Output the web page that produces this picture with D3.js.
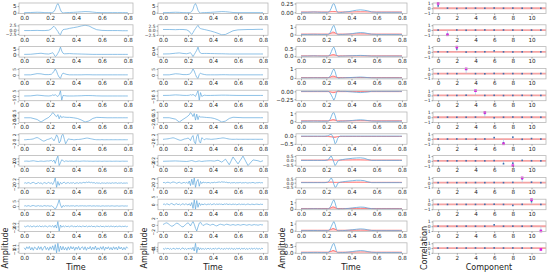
<!DOCTYPE html>
<html><head><meta charset="utf-8">
<script src="https://cdn.jsdelivr.net/npm/d3@7"></script>
<style>body{margin:0;background:#fff} text{font-family:"DejaVu Sans",sans-serif}</style>
</head><body><svg id="c" width="550" height="272"></svg>
<script>
// ---------- data ----------
const time = [0,0.05,0.1,0.13,0.16,0.19,0.21,0.22,0.23,0.24,0.25,0.26,0.27,0.28,0.29,0.3,0.31,0.33,0.35,0.38,0.41,0.44,0.47,0.5,0.53,0.56,0.6,0.64,0.68,0.72,0.76,0.78,0.8];
const denseTime = [0,0.01,0.02,0.03,0.04,0.05,0.06,0.07,0.08,0.09,0.1,0.11,0.12,0.13,0.14,0.15,0.16,0.17,0.18,0.19,
 0.2,0.21,0.22,0.23,0.24,0.25,0.26,0.27,0.28,0.29,0.3,0.31,0.32,0.33,0.34,
 0.35,0.36,0.37,0.38,0.39,0.4,0.41,0.42,0.43,0.44,0.45,0.46,0.47,0.48,0.49,0.5,0.51,0.52,0.53,0.54,0.55,0.56,0.57,0.58,0.59,
 0.6,0.61,0.62,0.63,0.64,0.65,0.66,0.67,0.68,0.69,0.7,0.71,0.72,0.73,0.74,0.75,0.76,0.77,0.78,0.79,0.8];
const timeTicks = [0,0.2,0.4,0.6,0.8];
const components = [0,1,2,3,4,5,6,7,8,9,10,11];
const componentTicks = [0,2,4,6,8,10];
const corrTicks = [-1,0,1];

const sourceSignals = [
 [0,0.1,0.3,0.2,0,0,0,0.2,0.8,2.5,5.5,7,5,2,0.3,-0.3,-0.1,0,0.1,0.2,0.4,0.6,0.8,0.7,0.4,0.1,0,0,0,0,0,0,0],
 [-0.5,-0.5,-0.4,-0.5,-0.5,-0.3,0.5,1.5,2,1.2,0,-1,-2.5,-3,-1,0,0.2,0.4,0.8,1.2,1.6,2.2,2.6,2.2,1,0,-0.4,-0.5,-0.5,-0.5,-0.6,-0.6,-0.6],
 [0,0.1,0.7,1,0.5,0.3,1,1.5,0,-2,-1,1,3,6.5,3,1,0.5,0.6,0.7,0.5,0.4,0.3,0.2,0.1,0,0,0,0,0,0,0,0,0],
 [0,0,1,0.8,0.2,0.2,0.5,1.5,3,5,3,0,-2,-3,0,1.5,1,0.3,0,0,0,0,0.1,0.1,0,0,0,0,0,0,0,0,0],
 [0,0.1,0.8,0.5,0.1,0,0.3,1,0.5,1.2,0.3,-0.5,1,5,-4,0.5,0.3,0,0,0,0.1,0.2,0.4,0.4,0.3,0.1,0,0,0,0,0,0,0],
 [0,0,-0.8,-2,-0.8,0.2,1.5,2.5,2,1,0.5,1.5,-0.5,1,0,0.5,0.3,0.2,0.2,0,-0.3,-1,-2,-1.5,-0.3,0.2,0.1,0,0,0,0,0,0],
 [0,0,0.05,0.1,0.1,0.15,0.2,0.3,0.5,0.7,0.8,0.6,0.3,0,-0.3,-0.5,-0.4,-0.1,0.1,0.2,
  0.4,0.7,0.3,-0.4,0.5,1.8,1,-1.2,-0.5,1.6,2,0.2,-1.5,-0.6,0.3,
  0.2,0.1,0.1,0,0,0.05,0.1,0.1,0.15,0.2,0.3,0.4,0.5,0.6,0.6,0.5,0.4,0.3,0.2,0.1,0.05,0,0,0,0,0.05,0,0,0,0,0,0,0,0,0,0,0,0,0,0,0,0,0,0,0,0],
 [0,0.05,0.1,0,-0.05,0.1,0.2,0.3,0.2,0,-0.1,-0.2,0,0.1,0,-0.1,0,0.1,0.2,0.1,
  0.3,0.5,-0.2,0.8,-1.5,1.5,3.5,-3,-1,1,0.4,-0.3,0.2,0.1,-0.1,
  0.1,0,0.1,-0.1,0,0.1,0.05,0,-0.05,0.05,0.1,0.15,0.1,0.05,0.1,0,0.05,0,-0.05,0,0.05,0,0,0.05,0,-0.05,0,0.05,0,0,0,0.05,0,-0.05,0,0,0.05,0,0,-0.05,0,0.05,0,0,0,0],
 [0,0.2,-0.1,0.3,0.1,-0.2,0.2,0.4,0.1,-0.3,0,0.3,-0.1,0.2,-0.4,0.1,0.3,-0.2,0.1,0.4,
  -0.2,0.3,-0.6,0.5,2.5,-2,0.8,-1,0.4,-0.3,0.2,0.5,-0.2,0.1,0.3,
  -0.1,0.2,0,0.3,-0.2,0.1,0.2,-0.1,0.3,0,0.2,0.4,0.1,0.5,0.3,0.6,0.2,0.4,0.1,0.3,-0.1,0.2,0,0.1,-0.2,0.2,0,0.1,-0.1,0.2,0,0.1,-0.1,0.2,0,0.1,0.2,-0.1,0.1,0,0.2,-0.1,0.1,0,0.1,0],
 [0,0.3,-0.2,0.4,0.1,-0.3,0.3,0.5,0.2,-0.2,0.1,0.4,-0.1,0.2,-0.3,0.2,0.4,-0.1,0.3,0.1,
  -0.2,0.3,-0.5,-1.5,-3,-1,2,6,1,-1.5,0.5,-0.3,0.4,0,0.3,
  -0.1,0.2,0.1,0.3,-0.2,0.2,0.3,-0.1,0.2,0.1,0.3,0,0.2,-0.1,0.2,0.1,0.3,-0.1,0.1,0.2,-0.1,0.2,0,0.1,-0.2,0.1,0.2,-0.1,0.1,0,0.2,-0.1,0.1,0.2,0,-0.1,0.1,0.2,-0.1,0,0.1,0.2,-0.1,0.1,0,0.1],
 [0.2,-0.3,0.1,0.4,-0.2,0.3,-0.4,0.2,0.1,-0.3,0.3,-0.1,0.4,-0.3,0.2,-0.2,0.3,0.1,-0.4,0.2,
  0.3,-0.2,0.5,-0.6,0.8,-1,3,-2.8,0.8,-0.5,0.4,-0.3,0.3,-0.2,0.2,
  -0.3,0.2,0.3,-0.2,0.1,-0.3,0.3,-0.1,0.2,-0.3,0.2,0.1,-0.2,0.3,-0.3,0.2,-0.1,0.3,-0.2,0.1,-0.3,0.2,0.1,-0.2,0.3,-0.2,0.1,-0.3,0.2,-0.1,0.2,-0.2,0.3,-0.1,0.1,-0.3,0.2,-0.2,0.1,0.2,-0.2,0.1,-0.1,0.2,-0.2,0.1],
 [0.2,-0.4,0.5,-0.1,0.6,-0.5,0.3,-0.6,0.4,0.1,-0.5,0.6,-0.3,0.5,-0.6,0.2,0.7,-0.4,0.3,-0.6,
  0.5,-0.3,0.8,-0.6,1.2,-1.4,1.6,-1,0.7,-0.5,0.6,-0.5,0.3,-0.6,0.5,
  -0.4,0.6,-0.2,0.5,-0.6,0.4,-0.3,0.6,-0.5,0.2,0.5,-0.4,0.5,-0.6,0.3,-0.2,0.6,-0.5,0.4,-0.3,0.7,-0.5,0.2,-0.4,0.5,-0.3,0.6,-0.6,0.4,-0.2,0.5,-0.4,0.3,-0.5,0.5,-0.3,0.4,-0.5,0.6,-0.2,0.4,-0.5,0.3,-0.4,0.5,0]
];
const sourceTicks = [[0,5],[-2.5,0,2.5],[0,5],[0,5],[-5,0,5],[-2.5,0,2.5],[-2,0,2],[-2,0,2],[-2,0,2],[0,5],[-2,0,2],[-1,0,1]];
const sourceTickText = [["0","5"],["−2.5","0.0","2.5"],["0","5"],["0","5"],["−5","0","5"],["−2.5","0.0","2.5"],["−2","0","2"],["−2","0","2"],["−2","0","2"],["0","5"],["−2","0","2"],["−1","0","1"]];

const recoveredSignals = [
 [0,0.1,0.3,0.2,0,0,0,0.2,0.9,2.6,5.6,7,4.8,1.8,0.2,-0.3,-0.1,0,0.1,0.2,0.4,0.6,0.8,0.7,0.4,0.1,0,0,0,0,0,0,0],
 [0.5,0.5,0.4,0.5,0.5,0.3,-0.5,-1.5,-2.2,-1.2,0,1,2,2.8,1.5,1,0.8,0.5,0.2,-0.3,-0.9,-1.6,-2.4,-2.2,-1.2,-0.2,0.3,0.4,0.5,0.5,0.6,0.6,0.6],
 [0,0.1,0.7,1,0.5,0.2,0.8,1.2,-0.5,-2.5,-0.5,1.5,3.5,6.5,2.5,0.8,0.4,0.5,0.5,0.4,0.3,0.2,0.2,0.1,0,0,0,0,0,0,0,0,0],
 [0,0,0.9,0.7,0.2,0.2,0.5,1.2,2.8,5,3.2,0.3,-2.2,-3,0.2,1.5,0.8,0.3,0,0,0,0,0.1,0.1,0,0,0,0,0,0,0,0,0],
 [0,0.1,0.6,0.4,0.1,0,0.2,0.8,0.3,1,0.2,-1,2,5,-5,3,-1,0.3,0,0,0.1,0.2,0.3,0.3,0.2,0.1,0,0,0,0,0,0,0],
 [0,0,-0.6,-1.8,-0.7,0.3,1.2,2.2,1.5,0.5,1.8,-1,1.5,-0.8,0.8,0.2,0.3,0.2,0.1,0,-0.3,-0.9,-1.8,-1.4,-0.3,0.2,0.1,0,0,0,0,0,0],
 [0,0.05,0.1,0.15,0.2,0.3,0.4,0.5,0.6,0.5,0.3,0.1,-0.1,-0.3,-0.4,-0.3,-0.1,0.1,0.2,0.3,
  0.5,0.2,-0.5,0.8,1.5,-1,-1.8,1.2,2,-0.8,-1.5,0.6,0.3,-0.2,0.1,
  0.2,0.1,0.1,0,0,0.05,0.1,0.15,0.2,0.3,0.35,0.4,0.5,0.55,0.5,0.4,0.3,0.2,0.1,0.05,0,0,0,0,0.05,0,0,0,0,0,0,0,0,0,0,0,0,0,0,0,0,0,0,0,0,0],
 [0,0.1,0.2,0.1,0,-0.1,0.1,0.3,0.4,0.2,0,-0.2,-0.1,0.1,0.2,0,-0.1,0.1,0.2,0.3,
  0.1,0.6,-0.5,1.2,-2,2.5,-1.5,3,-2.5,0.8,0.3,-0.2,0.3,0.1,0,
  0.1,0,0.1,0.05,0,0.1,0.15,0.1,0.2,0.2,0.25,0.3,0.25,0.2,0.15,0.1,0.05,0,0.05,0,0,0.05,0,0,0,0,0.05,0,0,0,0,0,0.05,0,0,0,0,0,0,0,0,0,0,0,0,0,0],
 [0.1,0.2,-0.1,0.2,0.3,0.1,-0.1,0.2,0.4,0.3,0.1,-0.2,0.1,0.3,0,-0.2,0.1,0.2,-0.1,0.3,
  -0.3,0.8,-1.2,1.6,-0.8,2.2,-2,0.6,1.5,-1.5,0.6,-0.3,0.4,0.1,0.2,
  0,0.2,0.1,-0.1,0.2,0,0.3,0.1,0.2,0.3,0.4,0.2,0.5,0.3,0.4,0.2,0.3,0,0.2,-0.1,0.1,0,0.2,-0.1,0.1,0,0.1,0.2,-0.1,0.1,0,0.2,0,-0.1,0.1,0,0.1,0.2,0,-0.1,0.1,0,0.2,0,0.1,0],
 [0,0.3,-0.2,0.4,0.2,-0.3,0.3,0.6,0.1,-0.3,0.2,0.5,-0.2,0.3,-0.4,0.1,0.5,-0.2,0.3,0.2,
  -0.4,0.5,-0.8,1.2,-2.5,3,-3,2.5,-1.8,1,-0.6,0.4,-0.3,0.3,0.1,
  -0.2,0.3,0,0.4,-0.2,0.2,0.4,-0.1,0.3,0,0.3,0.1,0.2,-0.2,0.3,0.1,0.4,-0.1,0.2,0.1,-0.1,0.3,0,0.2,-0.2,0.1,0.3,-0.1,0.2,0,0.2,-0.2,0.1,0.3,0,-0.1,0.2,0.1,-0.1,0.1,0.2,0.1,-0.1,0.2,0,0.1],
 [0.1,0.3,0.5,0.6,0.4,0.1,-0.2,-0.4,-0.3,0,0.3,0.5,0.4,0.1,-0.2,-0.5,-0.6,-0.3,0.1,0.4,
  0.6,0.3,-0.3,0.4,1,0.2,-1,-1.8,-0.6,0.5,0.8,0.2,-0.2,0,0.2,
  0.3,0.2,0,-0.1,0.1,0.2,0,-0.2,-0.3,-0.1,0.1,0.2,0.1,0,-0.1,0.1,0.2,0.1,0,-0.1,0,0.1,0,-0.1,0,0.1,0,-0.1,0,0.1,0.1,0,-0.1,0,0.1,0,-0.1,0,0.1,0,0,-0.1,0,0.1,0,0],
 [0.2,-0.3,0.3,-0.1,0.4,-0.3,0.2,-0.4,0.3,0.1,-0.3,0.4,-0.2,0.3,-0.4,0.2,0.5,-0.3,0.2,-0.4,
  0.3,-0.2,0.5,-0.4,0.8,-1.2,3,-2.2,0.9,-0.6,0.5,-0.4,0.3,-0.4,0.3,
  -0.3,0.4,-0.2,0.3,-0.4,0.3,-0.2,0.4,-0.3,0.2,0.4,-0.3,0.3,-0.4,0.2,-0.2,0.4,-0.3,0.3,-0.2,0.4,-0.4,0.2,-0.3,0.3,-0.2,0.4,-0.4,0.3,-0.2,0.3,-0.3,0.2,-0.4,0.3,-0.2,0.3,-0.3,0.4,-0.2,0.3,-0.3,0.2,-0.3,0.3,0]
];
const recoveredTicks = sourceTicks;
const recoveredTickText = sourceTickText;

const estimateSignals = [
 [0,0,0.01,0.005,0,0,0,0.01,0.05,0.12,0.22,0.25,0.18,0.06,0,-0.02,-0.01,0,0.01,0.02,0.04,0.06,0.07,0.06,0.04,0.01,0,0,0,0,0,0,0],
 [0,0,0.02,0.01,0,0,0,0.05,0.2,0.55,1,1.2,0.8,0.2,0,-0.05,0,0,0.02,0.05,0.12,0.2,0.25,0.22,0.12,0.03,0,0,0,0,0,0,0],
 [0,0,0.02,0.01,0,0,0,0.02,0.1,0.3,0.5,0.6,0.4,0.1,0,-0.03,0,0,0.01,0.02,0.03,0.04,0.05,0.04,0.02,0,0,0,0,0,0,0,0],
 [0,0,0.01,0.01,0,0,0,0.05,0.15,0.4,0.8,1,0.7,0.2,0,-0.05,0,0,0.02,0.04,0.06,0.08,0.1,0.08,0.04,0.01,0,0,0,0,0,0,0],
 [0,0,0,0,0,0,0,-0.01,-0.05,-0.12,-0.2,-0.28,-0.2,-0.05,0.02,0.02,0,0,0,-0.01,-0.02,-0.03,-0.04,-0.03,-0.02,0,0,0,0,0,0,0,0],
 [0,0,0.02,0.01,0,0,0,0.05,0.2,0.6,1,1.1,0.7,0.1,-0.1,-0.05,0,0,0.02,0.05,0.1,0.15,0.18,0.15,0.08,0.02,0,0,0,0,0,0,0],
 [0,0,0,0,0,0,0.02,0.05,0.1,0.12,0,-0.2,-0.5,-0.4,-0.15,-0.05,0,0,0,0,0,0,0,0,0,0,0,0,0,0,0,0,0],
 [0,0,0,0,0,0,0.05,0.15,0.4,0.5,0.2,-0.2,-0.6,-0.4,-0.1,0,0.05,0.1,0.15,0.2,0.25,0.28,0.3,0.25,0.1,0,0,0,0,0,0,0,0],
 [0,0,0,0,0,0,0.05,0.15,0.4,0.6,0.3,-0.2,-0.6,-0.5,-0.1,0,0.05,0.1,0.15,0.2,0.25,0.3,0.3,0.25,0.1,0,0,0,0,0,0,0,0],
 [0,0,0.02,0.01,0,0,0,0.05,0.2,0.6,1.1,1.4,0.9,0.2,0,-0.05,0,0,0.03,0.08,0.15,0.22,0.28,0.25,0.12,0.03,0,0,0,0,0,0,0],
 [0,0,0.02,0.01,0,0,0,0.05,0.2,0.6,1,1.3,0.9,0.2,0,-0.05,0,0,0.03,0.08,0.14,0.2,0.25,0.22,0.12,0.03,0,0,0,0,0,0,0],
 [0,0,0.01,0.01,0,0,0,0.03,0.12,0.35,0.6,0.7,0.45,0.1,0,-0.02,0,0,0.01,0.04,0.08,0.12,0.15,0.13,0.07,0.02,0,0,0,0,0,0,0]
];
const errorBand = [
 [0.01,0.01,0.01,0.01,0.01,0.01,0.01,0.01,0.015,0.02,0.02,0.02,0.02,0.015,0.01,0.01,0.01,0.01,0.01,0.01,0.012,0.015,0.015,0.015,0.012,0.01,0.01,0.01,0.01,0.01,0.01,0.01,0.01],
 [0.05,0.05,0.05,0.05,0.05,0.05,0.05,0.06,0.1,0.2,0.3,0.3,0.2,0.1,0.05,0.05,0.05,0.05,0.05,0.06,0.07,0.08,0.08,0.08,0.06,0.05,0.05,0.05,0.05,0.05,0.05,0.05,0.05],
 [0.02,0.02,0.02,0.02,0.02,0.02,0.02,0.03,0.05,0.08,0.1,0.1,0.08,0.05,0.03,0.02,0.02,0.02,0.02,0.02,0.02,0.02,0.02,0.02,0.02,0.02,0.02,0.02,0.02,0.02,0.02,0.02,0.02],
 [0.04,0.04,0.04,0.04,0.04,0.04,0.04,0.05,0.08,0.15,0.2,0.2,0.15,0.08,0.05,0.04,0.04,0.04,0.04,0.04,0.05,0.05,0.05,0.05,0.05,0.04,0.04,0.04,0.04,0.04,0.04,0.04,0.04],
 [-0.01,-0.01,-0.01,-0.01,-0.01,-0.01,-0.01,-0.01,-0.02,-0.03,-0.04,-0.04,-0.03,-0.02,-0.01,-0.01,-0.01,-0.01,-0.01,-0.01,-0.01,-0.01,-0.01,-0.01,-0.01,-0.01,-0.01,-0.01,-0.01,-0.01,-0.01,-0.01,-0.01],
 [0.05,0.05,0.05,0.05,0.05,0.05,0.05,0.06,0.1,0.15,0.2,0.2,0.15,0.1,0.05,0.05,0.05,0.05,0.05,0.05,0.06,0.07,0.07,0.07,0.06,0.05,0.05,0.05,0.05,0.05,0.05,0.05,0.05],
 [-0.02,-0.02,-0.02,-0.02,-0.02,-0.02,-0.02,-0.03,-0.04,-0.05,-0.06,-0.08,-0.08,-0.06,-0.04,-0.02,-0.02,-0.02,-0.02,-0.02,-0.02,-0.02,-0.02,-0.02,-0.02,-0.02,-0.02,-0.02,-0.02,-0.02,-0.02,-0.02,-0.02],
 [0.04,0.04,0.04,0.04,0.04,0.04,0.05,0.06,0.08,0.08,0.06,0.04,0.04,0.04,0.04,0.04,0.04,0.05,0.06,0.06,0.07,0.07,0.07,0.06,0.05,0.04,0.04,0.04,0.04,0.04,0.04,0.04,0.04],
 [0.04,0.04,0.04,0.04,0.04,0.04,0.05,0.06,0.08,0.08,0.06,0.04,0.04,0.04,0.04,0.04,0.04,0.05,0.06,0.06,0.07,0.07,0.07,0.06,0.05,0.04,0.04,0.04,0.04,0.04,0.04,0.04,0.04],
 [0.06,0.06,0.06,0.06,0.06,0.06,0.06,0.07,0.12,0.2,0.3,0.3,0.2,0.1,0.06,0.06,0.06,0.06,0.06,0.07,0.08,0.09,0.1,0.09,0.07,0.06,0.06,0.06,0.06,0.06,0.06,0.06,0.06],
 [0.06,0.06,0.06,0.06,0.06,0.06,0.06,0.07,0.12,0.2,0.3,0.3,0.2,0.1,0.06,0.06,0.06,0.06,0.06,0.07,0.08,0.09,0.1,0.09,0.07,0.06,0.06,0.06,0.06,0.06,0.06,0.06,0.06],
 [0.03,0.03,0.03,0.03,0.03,0.03,0.03,0.04,0.06,0.1,0.15,0.15,0.1,0.06,0.03,0.03,0.03,0.03,0.03,0.03,0.04,0.05,0.05,0.05,0.04,0.03,0.03,0.03,0.03,0.03,0.03,0.03,0.03]
];
const estimateTicks = [[0,0.25],[0,1],[0,0.5],[0,1],[-0.25,0],[0,1],[-0.5,0],[-0.5,0,0.5],[-0.5,0,0.5],[0,1],[0,1],[0,0.5]];
const estimateTickText = [["0.00","0.25"],["0","1"],["0.0","0.5"],["0","1"],["−0.25","0.00"],["0","1"],["−0.5","0.0"],["−0.5","0.0","0.5"],["−0.5","0.0","0.5"],["0","1"],["0","1"],["0.0","0.5"]];

const correlations = [
 [0.5,0.02,-0.05,0,0.02,0,0.05,0,0.03,0,0.02,0],
 [0,-0.9,0.02,-0.05,0,0.03,0,0.02,0,-0.03,0,0],
 [0.02,0,0.6,-0.05,0,0.02,0.2,0,-0.03,0,0.02,0],
 [0,0.02,0,0.9,0,-0.03,0.05,0,0.02,0,0,0.03],
 [0.02,0,0,0.05,0.9,0,0.03,-0.02,0,0.02,0,0],
 [0,0.02,0,0,0.03,0.8,-0.1,0,0.05,0,0.02,0],
 [0,0,0.02,0,0,0.02,0.3,-0.8,0.4,-0.05,0.1,0],
 [0.02,0,0,0.02,0,0,0.05,-0.6,-0.5,0.1,0.02,0],
 [0,0.02,0,0,0.02,0,0.03,0,0.05,0.8,0.1,0],
 [0,0,0.02,0,0,0.02,0.05,0,-0.2,0.02,0.6,0],
 [0.02,0,0,0.02,0,0,0.3,0,0.02,0,0.02,-0.9],
 [0,0.02,0,0,0.02,0,0.03,0,0.02,0,0.02,-0.3]
];
const matchComponent = [0,1,2,3,4,5,7,8,9,10,11,11];
const matchValue = [1,-1,1,1,1,1,-1,-1,1,1,-1,-0.3];

// ---------- layout ----------
const svg = d3.select("#c");
const cols = [[19,133],[158,268],[296,407],[433,546]];
const rowTop = r => 3 + r*21.8;
const rowH = 10.5;
const blue = "#5fa8dd";
const frameCol = "#b8b8b8";
const fs = 5.6;

function yDomain(arrs){
  const all = arrs.flat();
  const lo = d3.min(all), hi = d3.max(all);
  const pad = (hi-lo)*0.05;
  return [lo-pad, hi+pad];
}

function frame(g, x0, x1, y0){
  g.append("rect").attr("x",x0).attr("y",y0).attr("width",x1-x0).attr("height",rowH)
   .attr("fill","none").attr("stroke",frameCol).attr("stroke-width",0.8);
}

function xAxis(g, xs, ticks, fmt, y){
  const ax = d3.axisBottom(xs).tickValues(ticks).tickFormat(fmt).tickSize(1.5).tickPadding(0.8);
  const a = g.append("g").attr("transform",`translate(0,${y})`).call(ax);
  a.select(".domain").remove();
  a.selectAll("line").attr("stroke","#555").attr("stroke-width",0.5);
  a.selectAll("text").attr("font-size",fs).attr("fill","#222").attr("font-family","DejaVu Sans");
}

function yAxis(g, ys, ticks, texts, x, rotate){
  const ax = d3.axisLeft(ys).tickValues(ticks).tickFormat((d,i)=>texts[i]).tickSize(1.5).tickPadding(1);
  const a = g.append("g").attr("transform",`translate(${x},0)`).call(ax);
  a.select(".domain").remove();
  a.selectAll("line").attr("stroke","#555").attr("stroke-width",0.5);
  const t = a.selectAll("text").attr("font-size",ticks.length>2?4.4:fs).attr("fill","#222").attr("font-family","DejaVu Sans");
  if (rotate){
    t.attr("text-anchor","middle").attr("x",0).attr("dy","0.35em").attr("font-size",4.4)
     .attr("transform","translate(-4.5,0) rotate(-90)");
  }
}

function signalColumn(ci, signals, ticks, texts){
  const [x0,x1] = cols[ci];
  const xs = d3.scaleLinear().domain([-0.04,0.84]).range([x0,x1]);
  signals.forEach((sig,r)=>{
    const y0 = rowTop(r);
    const g = svg.append("g");
    const tt = sig.length === denseTime.length ? denseTime : time;
    const ys = d3.scaleLinear().domain(yDomain([sig])).range([y0+rowH, y0]);
    const line = d3.line().x((d,i)=>xs(tt[i])).y(d=>ys(d));
    g.append("path").datum(sig).attr("d",line).attr("fill","none").attr("stroke",blue).attr("stroke-width",0.7);
    frame(g,x0,x1,y0);
    xAxis(g,xs,timeTicks,d3.format(".1f"),y0+rowH);
    yAxis(g,ys,ticks[r],texts[r],x0, r>=3);
  });
}

signalColumn(0, sourceSignals, sourceTicks, sourceTickText);
signalColumn(1, recoveredSignals, recoveredTicks, recoveredTickText);

// column 3
(function(){
  const [x0,x1] = cols[2];
  const xs = d3.scaleLinear().domain([-0.04,0.84]).range([x0,x1]);
  estimateSignals.forEach((sig,r)=>{
    const y0 = rowTop(r);
    const g = svg.append("g");
    const band = errorBand[r];
    const ys = d3.scaleLinear().domain(yDomain([sig,band,[0]])).range([y0+rowH, y0]);
    const area = d3.area().x((d,i)=>xs(time[i])).y0(ys(0)).y1(d=>ys(d));
    g.append("path").datum(band).attr("d",area).attr("fill","rgba(255,80,80,0.35)");
    g.append("path").datum(band).attr("d",d3.line().x((d,i)=>xs(time[i])).y(d=>ys(d))).attr("fill","none").attr("stroke","#ff3030").attr("stroke-width",0.6);
    g.append("path").datum(sig).attr("d",d3.line().x((d,i)=>xs(time[i])).y(d=>ys(d))).attr("fill","none").attr("stroke",blue).attr("stroke-width",0.8);
    frame(g,x0,x1,y0);
    xAxis(g,xs,timeTicks,d3.format(".1f"),y0+rowH);
    yAxis(g,ys,estimateTicks[r],estimateTickText[r],x0,false);
  });
})();

// column 4
(function(){
  const [x0,x1] = cols[3];
  const xs = d3.scaleLinear().domain([-0.55,11.55]).range([x0,x1]);
  correlations.forEach((vals,r)=>{
    const y0 = rowTop(r);
    const g = svg.append("g");
    const ys = d3.scaleLinear().domain([-1.1,1.1]).range([y0+rowH, y0]);
    g.append("line").attr("x1",xs(-0.55)).attr("x2",xs(11.55)).attr("y1",ys(0)).attr("y2",ys(0))
      .attr("stroke","#f4a3a3").attr("stroke-width",1.8);
    g.selectAll(".st").data(vals).join("line").attr("x1",(d,i)=>xs(components[i])).attr("x2",(d,i)=>xs(components[i]))
      .attr("y1",ys(0)).attr("y2",d=>ys(d)).attr("stroke","#9cc8ea").attr("stroke-width",0.6);
    g.selectAll(".pt").data(vals).join("rect").attr("x",(d,i)=>xs(components[i])-0.8).attr("y",d=>ys(d)-0.8)
      .attr("width",1.6).attr("height",1.6).attr("fill","#3d6fb0");
    const mc = matchComponent[r], mv = matchValue[r];
    g.append("rect").attr("x",xs(mc)-1.3).attr("y",ys(mv)-1.3).attr("width",2.6).attr("height",2.6).attr("fill","#e020e0");
    frame(g,x0,x1,y0);
    xAxis(g,xs,componentTicks,d3.format("d"),y0+rowH);
    yAxis(g,ys,corrTicks,["−1","0","1"],x0,false);
  });
})();

// axis labels
const lab = (x,y,t,rot)=>svg.append("text").attr("x",x).attr("y",y).attr("font-size",8).attr("fill","#222")
  .attr("text-anchor","middle").attr("transform",rot?`rotate(-90,${x},${y})`:null).text(t);
lab(76,270,"Time");
lab(213,270,"Time");
lab(351,270,"Time");
lab(489,270,"Component");
lab(8,248,"Amplitude",true);
lab(147,248,"Amplitude",true);
lab(285,248,"Amplitude",true);
lab(427,248,"Correlation",true);
</script></body></html>
